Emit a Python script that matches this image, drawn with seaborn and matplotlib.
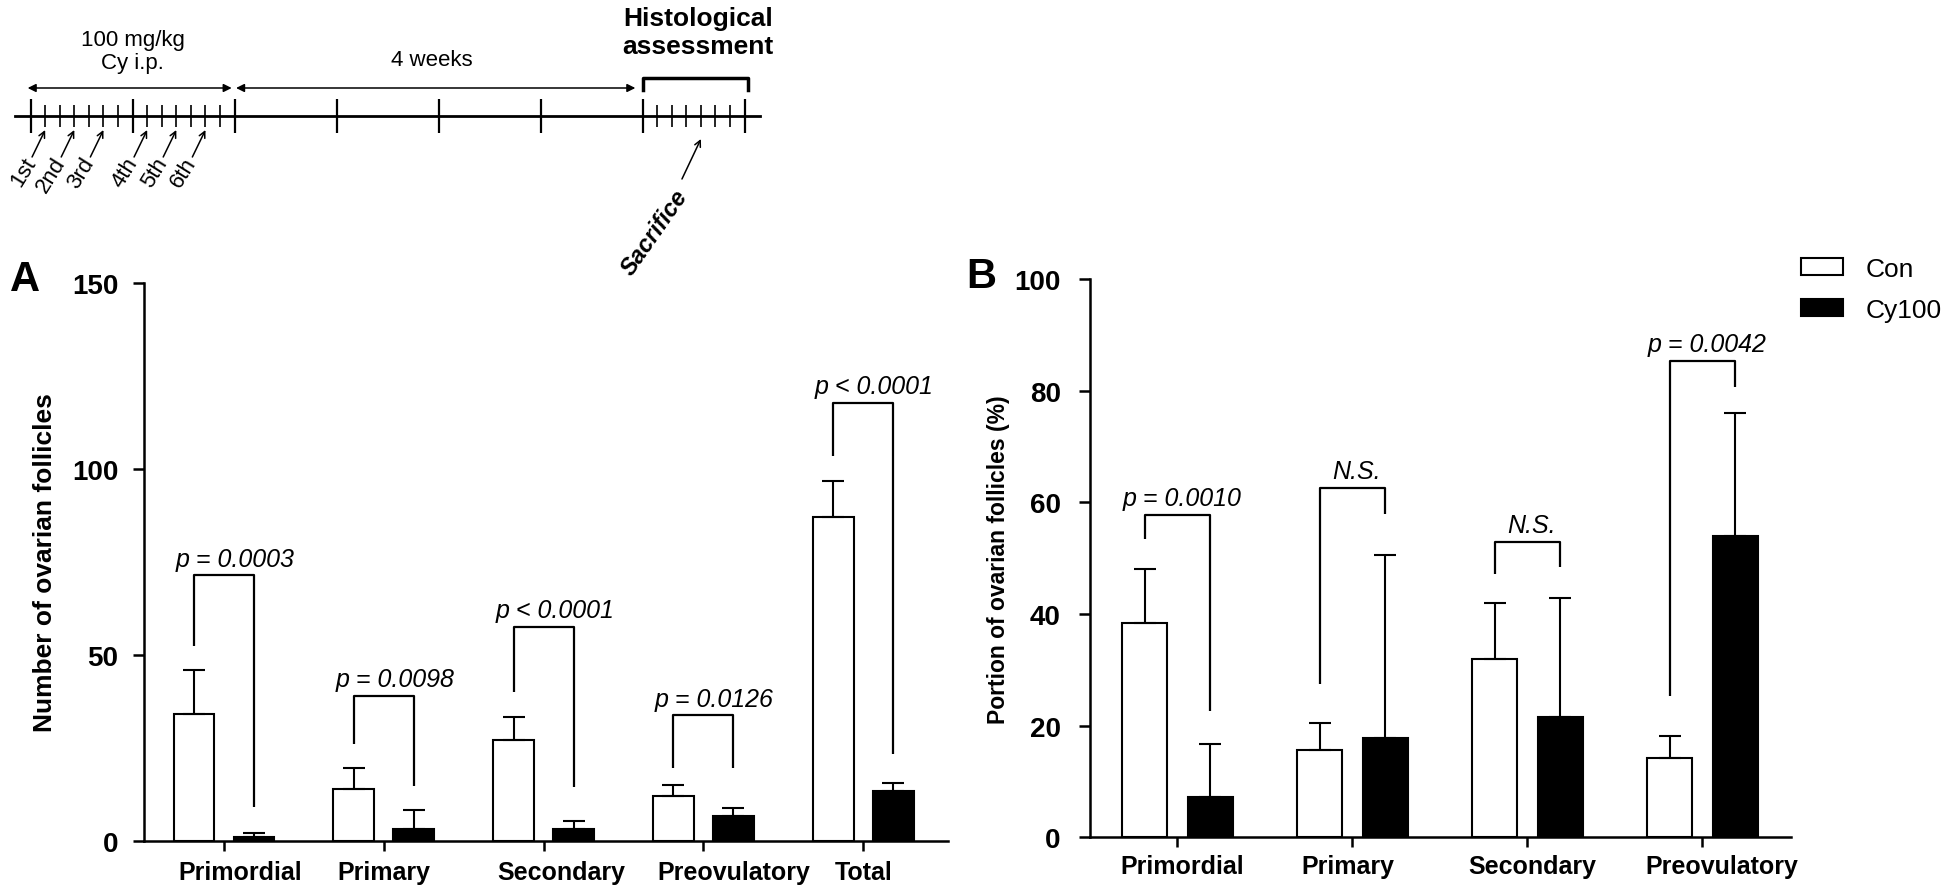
import numpy as np
import pandas as pd
import matplotlib
matplotlib.use("Agg")
import matplotlib.pyplot as plt
import seaborn as sns
from matplotlib.patches import Patch
from matplotlib.transforms import ScaledTranslation

# ---- panel A: number of follicles ----
stages_a = ["Primordial", "Primary", "Secondary", "Preovulatory", "Total"]
con_a = [34.1, 14.0, 27.2, 12.0, 87.1]
con_a_err = [12.0, 5.5, 6.2, 3.0, 9.6]
cy_a = [1.0, 3.2, 3.2, 6.8, 13.4]
cy_a_err = [1.1, 5.1, 2.3, 2.2, 2.3]
# significance brackets: left leg end, right leg end, top, label
brk_a_left = [52.4, 26.0, 40.0, 19.5, 103.6]
brk_a_right = [9.1, 14.8, 14.5, 19.5, 23.3]
brk_a_top = [71.4, 39.0, 57.5, 33.8, 117.7]
p_a = ["p = 0.0003", "p = 0.0098", "p < 0.0001", "p = 0.0126", "p < 0.0001"]

# ---- panel B: portion of follicles (%) ----
stages_b = ["Primordial", "Primary", "Secondary", "Preovulatory"]
con_b = [38.4, 15.7, 32.0, 14.2]
con_b_err = [9.7, 4.8, 10.0, 4.0]
cy_b = [7.2, 17.8, 21.5, 54.0]
cy_b_err = [9.5, 32.7, 21.4, 22.0]
brk_b_left = [53.5, 27.4, 47.1, 25.4]
brk_b_right = [22.6, 58.0, 48.4, 80.7]
brk_b_top = [57.8, 62.6, 52.9, 85.3]
p_b = ["p = 0.0010", "N.S.", "N.S.", "p = 0.0042"]

groups = ["Con", "Cy100"]
colors = {"Con": "white", "Cy100": "black"}

# ---- timeline (days) ----
week_days = [0, 7, 14, 21, 28, 35, 42, 49]
day_marks = [1, 2, 3, 4, 5, 6, 8, 9, 10, 11, 12, 13, 43, 44, 45, 46, 47, 48]
inject_days = [1, 3, 5, 8, 10, 12]
inject_labels = ["1st", "2nd", "3rd", "4th", "5th", "6th"]
sacrifice_day = 46

plt.rcParams["font.family"] = ["Liberation Sans", "DejaVu Sans"]
plt.rcParams["axes.linewidth"] = 1.8

fig = plt.figure(figsize=(19.46, 8.87), dpi=100)
W, H = 1946, 887


def draw_panel(ax, stages, con, con_err, cy, cy_err, bl, br, bt, labels,
               ymax, ystep, ylabel, ylabel_size, ylabelpad, ytick_pad, xtick_pad,
               xlab_shift, p_shift, xmax):
    n = len(stages)
    df = pd.DataFrame({"stage": stages * 2,
                       "group": ["Con"] * n + ["Cy100"] * n,
                       "value": con + cy})
    sns.barplot(data=df, x="stage", y="value", hue="group", order=stages,
                hue_order=groups, palette=colors, saturation=1, width=0.75,
                gap=0.32, edgecolor="black", linewidth=1.5, errorbar=None,
                legend=False, ax=ax)
    pos = np.arange(n)
    half = 0.75 / 4
    for off, vals, errs in [(-half, con, con_err), (half, cy, cy_err)]:
        ax.errorbar(pos + off, vals, yerr=[np.zeros(n), errs], fmt="none",
                    ecolor="black", elinewidth=1.5, capsize=8, capthick=1.5)
    for i in range(n):
        x0, x1 = i - half, i + half
        ax.plot([x0, x0, x1, x1], [bl[i], bt[i], bt[i], br[i]],
                color="black", lw=1.6, solid_capstyle="butt")
        ax.annotate(labels[i], xy=(i, bt[i]), xytext=(p_shift, 7),
                    textcoords="offset points", ha="center", va="baseline",
                    style="italic", fontsize=18)
    ax.set_xlim(-0.5, xmax)
    ax.set_ylim(0, ymax)
    ax.set_yticks(np.arange(0, ymax + 1, ystep))
    ax.set_xticks(pos, stages)
    ax.set_xlabel("")
    ax.set_ylabel(ylabel, fontsize=ylabel_size, fontweight="bold", labelpad=ylabelpad)
    for s in ["top", "right"]:
        ax.spines[s].set_visible(False)
    ax.tick_params(axis="y", length=8, width=1.8, labelsize=20, pad=ytick_pad)
    ax.tick_params(axis="x", length=7, width=1.8, labelsize=18, pad=xtick_pad)
    for lab in ax.get_yticklabels():
        lab.set_fontweight("bold")
    for lab, dx in zip(ax.get_xticklabels(), xlab_shift):
        lab.set_fontweight("bold")
        lab.set_transform(lab.get_transform() + ScaledTranslation(dx / 72, 0, fig.dpi_scale_trans))


ax_a = fig.add_axes([144 / W, 1 - 842 / H, 804 / W, 558 / H])
draw_panel(ax_a, stages_a, con_a, con_a_err, cy_a, cy_a_err,
           brk_a_left, brk_a_right, brk_a_top, p_a,
           150, 50, "Number of ovarian follicles", 19, 11, 10.5, 7,
           [11.5, 0, 13, 22, 0], 8, 4.53)

ax_b = fig.add_axes([1090 / W, 1 - 838.4 / H, 701 / W, 558.4 / H])
draw_panel(ax_b, stages_b, con_b, con_b_err, cy_b, cy_b_err,
           brk_b_left, brk_b_right, brk_b_top, p_b,
           100, 20, "Portion of ovarian follicles (%)", 16.5, 3, 13, 5,
           [3.5, -3, 3.5, 14], 3, 3.506)

handles = [Patch(facecolor=colors[g], edgecolor="black", linewidth=1.5) for g in groups]
fig.legend(handles, groups, loc="upper left", bbox_to_anchor=(1801 / W, 1 - 258 / H),
           frameon=False, borderpad=0, borderaxespad=0, handlelength=1.6,
           handleheight=0.6, handletextpad=0.85, labelspacing=0.65, fontsize=19)

fig.text(10 / W, 1 - 291 / H, "A", fontsize=30, fontweight="bold", ha="left", va="baseline")
fig.text(966 / W, 1 - 288 / H, "B", fontsize=30, fontweight="bold", ha="left", va="baseline")

# ---- timeline schematic ----
ax_t = fig.add_axes([0, 1 - 262 / H, 800 / W, 262 / H])
ax_t.set_xlim(-2.1, 52.8)
ax_t.set_ylim(262, 0)
ax_t.axis("off")

ax_t.plot([-1.05, 50.05], [117, 117], color="black", lw=2)
ax_t.vlines(week_days, 100, 134, color="black", lw=1.6)
ax_t.vlines(day_marks, 106, 128, color="black", lw=1.2)

for d, lab in zip(inject_days, inject_labels):
    ax_t.annotate("", xy=(d, 131), xytext=(d - 0.9, 158),
                  arrowprops=dict(arrowstyle="->", lw=1.1, color="black",
                                  mutation_scale=11, shrinkA=0, shrinkB=0))
    ax_t.text(d - 0.95, 160, lab, rotation=58, rotation_mode="anchor",
              ha="right", va="center", fontsize=16)

ax_t.annotate("", xy=(sacrifice_day, 140), xytext=(sacrifice_day - 1.3, 180),
              arrowprops=dict(arrowstyle="->", lw=1.1, color="black",
                              mutation_scale=11, shrinkA=0, shrinkB=0))
ax_t.text(sacrifice_day - 1.2, 192, "Sacrifice", rotation=55, rotation_mode="anchor",
          ha="right", va="center", fontsize=17, fontweight="bold", style="italic")

ax_t.annotate("", xy=(-0.2, 89), xytext=(13.8, 89),
              arrowprops=dict(arrowstyle="<|-|>", lw=1.1, color="black",
                              mutation_scale=12, shrinkA=0, shrinkB=0))
ax_t.annotate("", xy=(14.1, 89), xytext=(41.5, 89),
              arrowprops=dict(arrowstyle="<|-|>", lw=1.1, color="black",
                              mutation_scale=12, shrinkA=0, shrinkB=0))
ax_t.plot([42, 42, 49.2, 49.2], [91, 79, 79, 91], color="black", lw=2.5)

ax_t.text(7, 52, "100 mg/kg\nCy i.p.", ha="center", va="center", fontsize=16, linespacing=1.1)
ax_t.text(27.5, 60, "4 weeks", ha="center", va="center", fontsize=16)
ax_t.text(45.8, 33, "Histological\nassessment", ha="center", va="center",
          fontsize=19, fontweight="bold", linespacing=1.2)

fig.savefig("out.png", dpi=100)
